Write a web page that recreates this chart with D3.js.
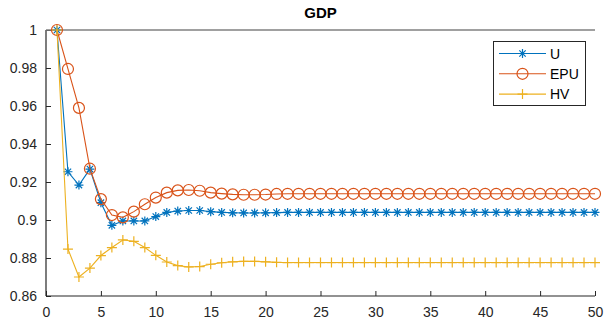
<!DOCTYPE html>
<html>
<head>
<meta charset="utf-8">
<script src="https://cdn.jsdelivr.net/npm/d3@7"></script>
<style>
  html, body { margin: 0; padding: 0; background: #fff; }
  svg { display: block; font-family: "Liberation Sans", Arial, Helvetica, sans-serif; }
</style>
</head>
<body>
<svg id="chart" width="605" height="327"></svg>
<script>
// Horizon index and impulse-response paths of GDP
const periods = d3.range(1, 51);

const seriesU = [
  1.0000, 0.9254, 0.9184, 0.9268, 0.9091, 0.8972, 0.8995, 0.8995, 0.8995, 0.9018,
  0.9040, 0.9047, 0.9050, 0.9050, 0.9044, 0.9040, 0.9038, 0.9037, 0.9037, 0.9038,
  0.9039, 0.9040, 0.9040, 0.9040, 0.9040, 0.9040, 0.9040, 0.9040, 0.9040, 0.9040,
  0.9040, 0.9040, 0.9040, 0.9040, 0.9040, 0.9040, 0.9040, 0.9040, 0.9040, 0.9040,
  0.9040, 0.9040, 0.9040, 0.9040, 0.9040, 0.9040, 0.9040, 0.9040, 0.9040, 0.9040
];

const seriesEPU = [
  1.0000, 0.9795, 0.9590, 0.9270, 0.9110, 0.9026, 0.9014, 0.9044, 0.9083, 0.9118,
  0.9144, 0.9156, 0.9158, 0.9154, 0.9144, 0.9139, 0.9135, 0.9133, 0.9133, 0.9134,
  0.9137, 0.9138, 0.9138, 0.9138, 0.9138, 0.9138, 0.9138, 0.9138, 0.9138, 0.9138,
  0.9138, 0.9138, 0.9138, 0.9138, 0.9138, 0.9138, 0.9138, 0.9138, 0.9138, 0.9138,
  0.9138, 0.9138, 0.9138, 0.9138, 0.9138, 0.9138, 0.9138, 0.9138, 0.9138, 0.9138
];

const seriesHV = [
  1.0000, 0.8847, 0.8700, 0.8747, 0.8813, 0.8855, 0.8895, 0.8888, 0.8855, 0.8814,
  0.8779, 0.8760, 0.8753, 0.8755, 0.8767, 0.8775, 0.8780, 0.8782, 0.8782, 0.8780,
  0.8777, 0.8776, 0.8776, 0.8776, 0.8776, 0.8776, 0.8776, 0.8776, 0.8776, 0.8776,
  0.8776, 0.8776, 0.8776, 0.8776, 0.8776, 0.8776, 0.8776, 0.8776, 0.8776, 0.8776,
  0.8776, 0.8776, 0.8776, 0.8776, 0.8776, 0.8776, 0.8776, 0.8776, 0.8776, 0.8776
];

const seriesNames = ["U", "EPU", "HV"];
const xTicks = [0, 5, 10, 15, 20, 25, 30, 35, 40, 45, 50];
const yTicks = [0.86, 0.88, 0.9, 0.92, 0.94, 0.96, 0.98, 1];
const chartTitle = "GDP";

const series = [
  { name: seriesNames[0], values: seriesU,   color: "#0072BD", marker: "star" },
  { name: seriesNames[1], values: seriesEPU, color: "#D95319", marker: "circle" },
  { name: seriesNames[2], values: seriesHV,  color: "#EDB120", marker: "plus" }
];

const svg = d3.select("#chart");
const m = { left: 46, right: 10, top: 30, bottom: 31 };
const W = 605, H = 327;

const x = d3.scaleLinear().domain([0, 50]).range([m.left, W - m.right]);
const y = d3.scaleLinear().domain([0.86, 1]).range([H - m.bottom, m.top]);

const textColor = "#262626";
const fmtY = v => d3.format("~g")(+v.toFixed(2));

// Axes with inward ticks
const xAxis = svg.append("g")
  .attr("transform", `translate(0,${y(0.86)})`)
  .call(d3.axisBottom(x).tickValues(xTicks).tickSize(-5).tickPadding(11).tickFormat(d3.format("d")));
const yAxis = svg.append("g")
  .attr("transform", `translate(${x(0)},0)`)
  .call(d3.axisLeft(y).tickValues(yTicks).tickSize(-5).tickPadding(9).tickFormat(fmtY));

[xAxis, yAxis].forEach(g => {
  g.select(".domain").attr("stroke", textColor).attr("stroke-width", 1.2);
  g.selectAll(".tick line").attr("stroke", textColor).attr("stroke-width", 1);
  g.selectAll(".tick text").attr("fill", textColor).style("font-size", "14px");
});
xAxis.selectAll(".domain").attr("d", `M${x(0)},0H${x(50)}`);
yAxis.selectAll(".domain").attr("d", `M0,${y(0.86)}V${y(1)}`);

// Upper frame line
svg.append("line")
  .attr("x1", x(0)).attr("x2", x(50))
  .attr("y1", y(1)).attr("y2", y(1))
  .attr("stroke", "#808080").attr("stroke-width", 1.6);

// Title
svg.append("text")
  .attr("x", (x(0) + x(50)) / 2).attr("y", 18)
  .attr("text-anchor", "middle")
  .style("font-size", "15px").style("font-weight", "bold")
  .attr("fill", "#000")
  .text(chartTitle);

// Marker drawing
function drawMarker(g, type, color) {
  if (type === "circle") {
    g.append("circle").attr("r", 5.5).attr("fill", "none").attr("stroke", color).attr("stroke-width", 1.2);
  } else if (type === "plus") {
    g.append("path").attr("d", "M-5,0H5M0,-5V5").attr("stroke", color).attr("stroke-width", 1.2).attr("fill", "none");
  } else if (type === "star") {
    const r = 4.5, d = r * 0.7071;
    g.append("path")
      .attr("d", `M-${r},0H${r}M0,-${r}V${r}M-${d},-${d}L${d},${d}M-${d},${d}L${d},-${d}`)
      .attr("stroke", color).attr("stroke-width", 1.2).attr("fill", "none");
  }
}

const line = d3.line().x((d, i) => x(periods[i])).y(d => y(d));

series.forEach(s => {
  const g = svg.append("g");
  g.append("path")
    .attr("d", line(s.values))
    .attr("fill", "none")
    .attr("stroke", s.color)
    .attr("stroke-width", 1.1);
  s.values.forEach((v, i) => {
    const mg = g.append("g").attr("transform", `translate(${x(periods[i])},${y(v)})`);
    drawMarker(mg, s.marker, s.color);
  });
});

// Legend
const legend = svg.append("g");
legend.append("rect")
  .attr("x", 493.5).attr("y", 41.5).attr("width", 92).attr("height", 64)
  .attr("fill", "#fff").attr("stroke", "#262626").attr("stroke-width", 1);
series.forEach((s, i) => {
  const ly = 53.5 + i * 20.3;
  const row = legend.append("g");
  row.append("line").attr("x1", 499).attr("x2", 546).attr("y1", ly).attr("y2", ly)
    .attr("stroke", s.color).attr("stroke-width", 1.1);
  const mg = row.append("g").attr("transform", `translate(522.5,${ly})`);
  drawMarker(mg, s.marker, s.color);
  row.append("text").attr("x", 550).attr("y", ly + 5)
    .style("font-size", "14px").attr("fill", "#000").text(s.name);
});
</script>
</body>
</html>
